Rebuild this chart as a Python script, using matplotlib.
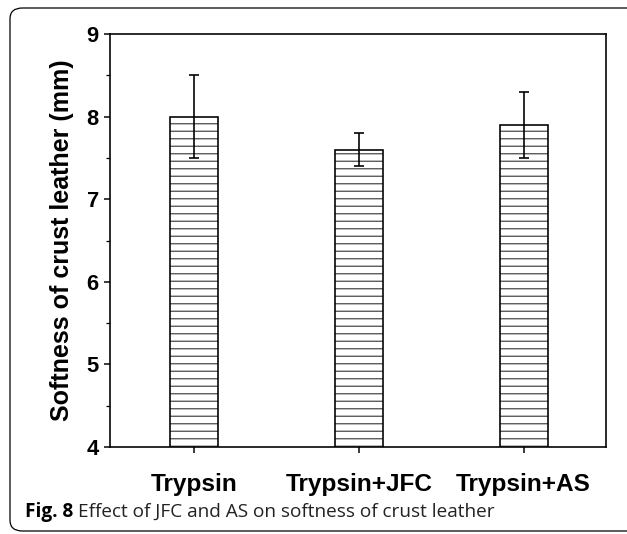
import matplotlib
matplotlib.use("Agg")
import matplotlib.pyplot as plt
from matplotlib.patches import FancyBboxPatch
from matplotlib.ticker import MultipleLocator

categories = ["Trypsin", "Trypsin+JFC", "Trypsin+AS"]
softness = [8.0, 7.6, 7.9]
errors = [0.5, 0.2, 0.4]
yticks = [4, 5, 6, 7, 8, 9]

DPI = 90
fig = plt.figure(figsize=(627 / DPI, 534 / DPI), dpi=DPI)
plt.rcParams['hatch.linewidth'] = 1.0

ax = fig.add_axes([110 / 627, 1 - 447 / 534, 496 / 627, 413 / 534])
x = list(range(len(categories)))
ax.bar(x, softness, width=0.29, bottom=0, color="white", edgecolor="#4a4a4a",
       hatch="--", linewidth=0, zorder=2)
ax.bar(x, softness, width=0.29, fill=False, edgecolor="black", linewidth=1.3, zorder=3)
ax.errorbar(x, softness, yerr=errors, fmt="none", ecolor="black", elinewidth=1.3,
            capsize=4, capthick=1.3, zorder=4)

ax.set_xlim(-0.51, 2.5)
ax.set_ylim(4, 9)
ax.set_yticks(yticks)
ax.yaxis.set_minor_locator(MultipleLocator(0.5))
ax.set_xticks(x)
ax.set_xticklabels(categories, fontsize=19.5, fontweight="bold", family="Liberation Sans")
ax.set_yticklabels([str(v) for v in yticks], fontsize=17.5, fontweight="bold",
                   family="Liberation Sans")
ax.tick_params(axis="y", which="major", direction="out", length=5, width=1.2, pad=4)
ax.tick_params(axis="y", which="minor", direction="out", length=3, width=1.0)
ax.tick_params(axis="x", which="major", direction="out", length=5, width=1.2, pad=16)
ax.tick_params(axis="x", which="minor", bottom=False)
for s in ax.spines.values():
    s.set_linewidth(1.3)
ax.set_ylabel("Softness of crust leather (mm)", fontsize=20, fontweight="bold",
              family="Liberation Sans", labelpad=10)

# caption
cap_y = 1 - 517 / 534
t1 = fig.text(25 / 627, cap_y, "Fig. 8", fontsize=15.2, fontweight="bold",
              family="Open Sans", ha="left", va="baseline")
renderer = fig.canvas.get_renderer()
bb = t1.get_window_extent(renderer=renderer)
x2 = (bb.x1 + 5) / fig.bbox.width
fig.text(x2, cap_y, "Effect of JFC and AS on softness of crust leather",
         fontsize=15.2, family="Open Sans", ha="left", va="baseline", color="#222222")

# rounded frame
frame = FancyBboxPatch((10 / 627, 1 - 531 / 534), 640 / 627, 523 / 534,
                       boxstyle="round,pad=0,rounding_size=0.02",
                       transform=fig.transFigure, fill=False, edgecolor="black",
                       linewidth=1.0, clip_on=False)
fig.patches.append(frame)

fig.savefig("out.png", dpi=DPI)
